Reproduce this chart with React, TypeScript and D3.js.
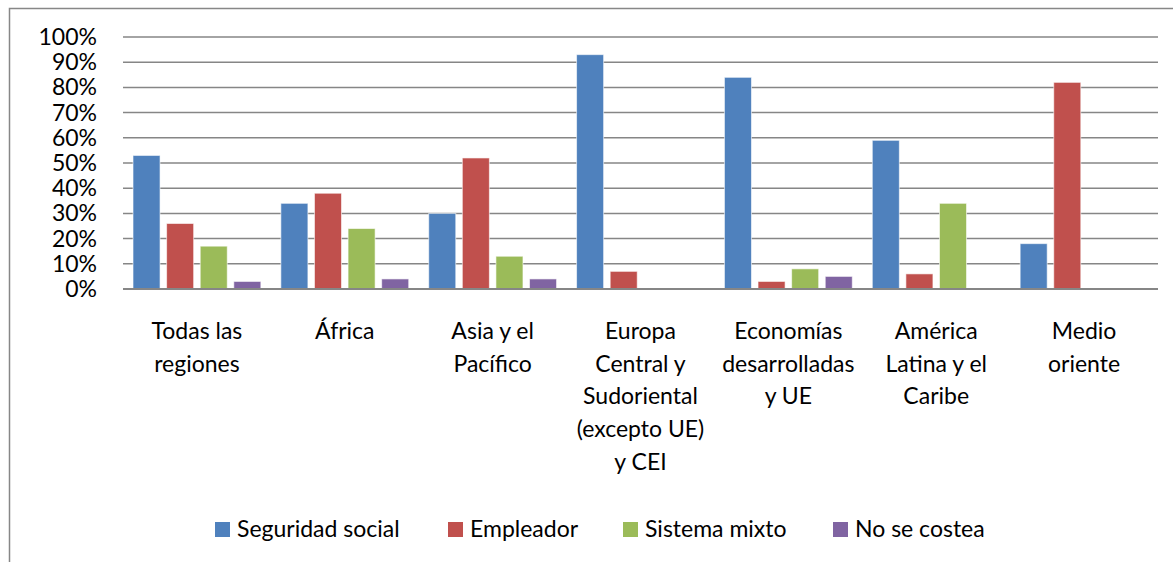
import { useEffect, useRef } from 'react'
import * as d3 from 'd3'

// Categories (each one is split into lines for the axis labels)
const categories = [
  'Todas las regiones',
  'África',
  'Asia y el Pacífico',
  'Europa Central y Sudoriental (excepto UE) y CEI',
  'Economías desarrolladas y UE',
  'América Latina y el Caribe',
  'Medio oriente',
]
const categoryLines = [
  ['Todas las', 'regiones'],
  ['África'],
  ['Asia y el', 'Pacífico'],
  ['Europa', 'Central y', 'Sudoriental', '(excepto UE)', 'y CEI'],
  ['Economías', 'desarrolladas', 'y UE'],
  ['América', 'Latina y el', 'Caribe'],
  ['Medio', 'oriente'],
]

const seriesNames = ['Seguridad social', 'Empleador', 'Sistema mixto', 'No se costea']
const seriesColors = ['#4F81BD', '#C0504D', '#9BBB59', '#8064A2']

// values in percent, one array per series
const seguridadSocial = [53, 34, 30, 93, 84, 59, 18]
const empleador = [26, 38, 52, 7, 3, 6, 82]
const sistemaMixto = [17, 24, 13, 0, 8, 34, 0]
const noSeCostea = [3, 4, 4, 0, 5, 0, 0]

const yTicks = [0, 10, 20, 30, 40, 50, 60, 70, 80, 90, 100]

const FONT = 'Lato, "Open Sans", sans-serif'

export default function App() {
  const svgRef = useRef<SVGSVGElement>(null)

  useEffect(() => {
    if (!svgRef.current) return

    const width = 1173
    const height = 562
    const plotL = 123
    const plotR = 1158
    const plotT = 37
    const plotB = 289

    const svg = d3.select(svgRef.current)
    svg.selectAll('*').remove()

    svg.append('rect')
      .attr('width', width).attr('height', height)
      .attr('fill', '#fff')

    // chart frame (runs off the right and bottom of the picture)
    svg.append('rect')
      .attr('x', 9.5).attr('y', 8.5)
      .attr('width', width + 20).attr('height', height + 20)
      .attr('fill', 'none')
      .attr('stroke', '#878787')
      .attr('stroke-width', 1.5)

    const table = [seguridadSocial, empleador, sistemaMixto, noSeCostea]
    const data = categories.map((c, i) => ({
      cat: c,
      values: seriesNames.map((s, k) => ({ series: s, k, value: table[k][i] })),
    }))

    const x0 = d3.scaleBand<string>()
      .domain(categories)
      .range([plotL, plotR])
      .padding(0)

    // bars of one group, 10px clear of the category edges
    const x1 = d3.scaleBand<string>()
      .domain(seriesNames)
      .range([10, x0.bandwidth() - 10])
      .paddingInner(0.195)
      .paddingOuter(0)

    const y = d3.scaleLinear()
      .domain([0, 100])
      .range([plotB, plotT])

    // gridlines
    svg.append('g')
      .selectAll('line')
      .data(yTicks.filter(t => t > 0))
      .enter().append('line')
      .attr('x1', plotL).attr('x2', plotR)
      .attr('y1', d => y(d)).attr('y2', d => y(d))
      .attr('stroke', '#868686')
      .attr('stroke-width', 1.5)

    // y labels
    svg.append('g')
      .selectAll('text')
      .data(yTicks)
      .enter().append('text')
      .attr('x', 97)
      .attr('y', d => y(d) + 8)
      .attr('text-anchor', 'end')
      .attr('font-family', FONT)
      .attr('font-size', 23)
      .attr('fill', '#000')
      .text(d => `${d}%`)

    // bars
    const groups = svg.append('g')
      .selectAll('g')
      .data(data)
      .enter().append('g')
      .attr('transform', d => `translate(${x0(d.cat)},0)`)

    groups.selectAll('rect')
      .data(d => d.values.filter(v => v.value > 0))
      .enter().append('rect')
      .attr('x', d => x1(d.series)!)
      .attr('y', d => y(d.value))
      .attr('width', x1.bandwidth())
      .attr('height', d => plotB - y(d.value))
      .attr('fill', d => seriesColors[d.k])
      .attr('stroke', 'rgba(255,255,255,0.6)')
      .attr('stroke-width', 1)

    // x axis line
    svg.append('line')
      .attr('x1', plotL).attr('x2', plotR)
      .attr('y1', plotB).attr('y2', plotB)
      .attr('stroke', '#868686')
      .attr('stroke-width', 2)

    // category labels
    const labels = svg.append('g')
      .selectAll('text')
      .data(categories)
      .enter().append('text')
      .attr('x', d => x0(d)! + x0.bandwidth() / 2)
      .attr('y', 339)
      .attr('text-anchor', 'middle')
      .attr('font-family', FONT)
      .attr('font-size', 23)
      .attr('fill', '#000')

    labels.selectAll('tspan')
      .data((d, i) => categoryLines[i])
      .enter().append('tspan')
      .attr('x', function () {
        return (this.parentNode as SVGTextElement).getAttribute('x')
      })
      .attr('dy', (d, i) => (i === 0 ? 0 : 32.7))
      .text(d => d)

    // legend
    const legendX = [215, 448, 623, 833]
    const legend = svg.append('g')
      .selectAll('g')
      .data(seriesNames)
      .enter().append('g')
      .attr('transform', (d, i) => `translate(${legendX[i]},0)`)

    legend.append('rect')
      .attr('x', 0).attr('y', 522)
      .attr('width', 15).attr('height', 15)
      .attr('fill', (d, i) => seriesColors[i])

    legend.append('text')
      .attr('x', 22).attr('y', 537)
      .attr('font-family', FONT)
      .attr('font-size', 23)
      .attr('fill', '#000')
      .text(d => d)
  }, [])

  return (
    <svg
      ref={svgRef}
      width={1173}
      height={562}
      style={{ position: 'absolute', left: 0, top: 0 }}
    />
  )
}
